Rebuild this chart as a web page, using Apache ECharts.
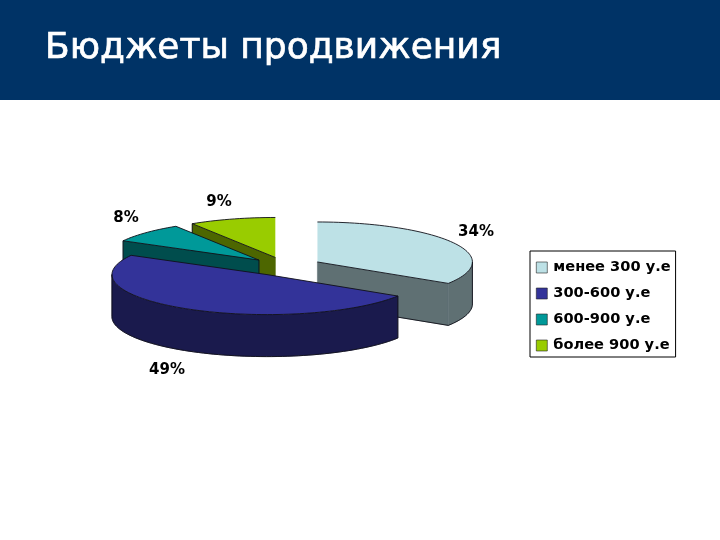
<!DOCTYPE html>
<html><head><meta charset="utf-8">
<style>html,body{margin:0;padding:0;background:#fff}#c{width:720px;height:540px}</style>
<script src="https://cdn.jsdelivr.net/npm/echarts@6/dist/echarts.min.js"></script>
</head><body><div id="c"></div>
<script>
const categories = ['менее 300 у.е', '300-600 у.е', '600-900 у.е', 'более 900 у.е'];
const shares = [34, 49, 8, 9];
const topColors = ['#BDE1E6', '#333399', '#009999', '#99CC00'];
const sideColors = ['#5F7073', '#1A1A4D', '#004D4D', '#4D6600'];
const labelCentres = [[476, 232], [167, 370], [126, 218], [219, 202]];

const PIE = {cx: 285.5, cy: 266.5, rx: 155, ry: 40, depth: 42, explode: 0.235};
const total = shares.reduce((a, b) => a + b, 0);
const rad = d => d * Math.PI / 180;
let acc = 0;
const slices = shares.map((v, i) => {
  const a0 = acc / total * 360; acc += v; const a1 = acc / total * 360;
  const m = rad((a0 + a1) / 2);
  return {i, v, a0, a1, m,
    cx: PIE.cx + PIE.explode * PIE.rx * Math.sin(m),
    cy: PIE.cy - PIE.explode * PIE.ry * Math.cos(m)};
});
const pt = (s, deg, dy) => [s.cx + PIE.rx * Math.sin(rad(deg)), s.cy - PIE.ry * Math.cos(rad(deg)) + (dy || 0)];
const arc = (s, a, b, dy) => {
  const n = Math.max(2, Math.ceil(Math.abs(b - a) / 2)), out = [];
  for (let k = 0; k <= n; k++) out.push(pt(s, a + (b - a) * k / n, dy));
  return out;
};
const LINE = {stroke: '#101018', lineWidth: 0.9};
const atTop = a => Math.abs(Math.sin(rad(a))) < 1e-6;
function sliceShapes(s) {
  const kids = [], lines = [], d = PIE.depth, side = sideColors[s.i], top = topColors[s.i];
  const apex = [s.cx, s.cy], apexB = [s.cx, s.cy + d];
  const sideStyle = {fill: side, stroke: side, lineWidth: 0.6};
  const cut = (a, other) => {
    const p = pt(s, a), q = pt(s, a, d);
    kids.push({type: 'polygon', shape: {points: [apex, p, q, apexB]}, style: sideStyle});
    lines.push(atTop(other) ? [q, apexB] : [q, apexB, apex]);
    if (a > 180) lines.push([p, q]);
  };
  if (s.a0 > 180) cut(s.a0, s.a1);
  if (s.a1 <= 180) cut(s.a1, s.a0);
  const f = Math.max(s.a0, 90), t = Math.min(s.a1, 270);
  if (f < t) {
    const up = arc(s, f, t), down = arc(s, f, t, d);
    kids.push({type: 'polygon', shape: {points: up.concat(down.slice().reverse())}, style: sideStyle});
    lines.push(down);
    lines.push([up[0], down[0]]);
    if (s.a1 > 180) lines.push([up[up.length - 1], down[down.length - 1]]);
  }
  const rim = arc(s, s.a0, s.a1);
  kids.push({type: 'polygon', shape: {points: [apex].concat(rim)}, style: {fill: top}});
  if (!atTop(s.a1)) lines.push([apex, rim[rim.length - 1]]);
  if (!atTop(s.a0)) lines.push([apex, rim[0]]);
  lines.push(rim);
  lines.forEach(pts => kids.push({type: 'polyline', shape: {points: pts}, style: {fill: 'none', stroke: LINE.stroke, lineWidth: LINE.lineWidth}}));
  return kids;
}
const order = slices.slice().sort((a, b) => Math.cos(b.m) - Math.cos(a.m));
const series = order.map((s, z) => ({
  type: 'custom', name: categories[s.i], coordinateSystem: 'none', silent: true,
  z: 2 + z, itemStyle: {color: topColors[s.i]}, data: [shares[s.i]],
  renderItem: () => ({type: 'group', children: sliceShapes(s)})
}));
series.push({
  type: 'custom', name: 'labels', coordinateSystem: 'none', silent: true, z: 20,
  data: shares,
  renderItem: (p, api) => ({type: 'text', x: labelCentres[p.dataIndex][0], y: labelCentres[p.dataIndex][1],
    style: {text: api.value(0) + '%', fill: '#000', font: 'bold 15px "DejaVu Sans"', textAlign: 'center', textVerticalAlign: 'middle'}})
});
const chart = echarts.init(document.getElementById('c'), null, {renderer: 'canvas'});
chart.setOption({
  animation: false, backgroundColor: '#fff',
  title: {text: 'Бюджеты продвижения', left: 45, top: 31, padding: 0, z: 10,
    textStyle: {color: '#fff', fontFamily: 'DejaVu Sans', fontSize: 36, fontWeight: 'normal', textBorderColor: '#fff', textBorderWidth: 0.7}},
  graphic: [{type: 'rect', z: 0, silent: true, shape: {x: 0, y: 0, width: 720, height: 100}, style: {fill: '#003366'}}],
  legend: {data: categories, orient: 'vertical', left: 530, top: 251, width: 146,
    backgroundColor: '#fff', borderColor: '#000', borderWidth: 1, padding: [9, 5, 4, 6],
    itemWidth: 11, itemHeight: 11, itemGap: 11, icon: 'rect', selectedMode: false,
    itemStyle: {borderColor: '#222', borderWidth: 0.6},
    textStyle: {color: '#000', fontFamily: 'DejaVu Sans', fontWeight: 'bold', fontSize: 14.6, padding: [0, 0, 0, 1]}},
  series
});
</script></body></html>
